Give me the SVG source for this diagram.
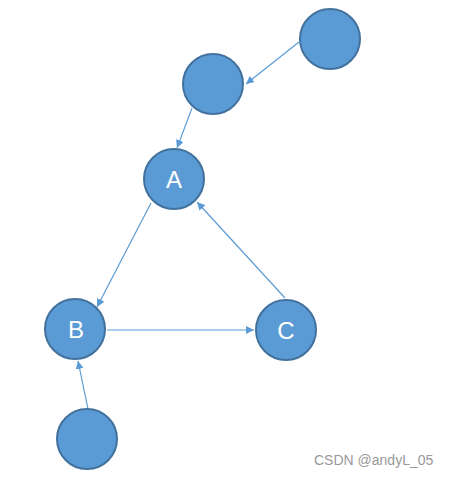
<svg xmlns="http://www.w3.org/2000/svg" width="449" height="477" viewBox="0 0 449 477">
<style>
.n{fill:#5B9BD5;stroke:#41719C;stroke-width:2}
.l{fill:#fff;font-family:"Liberation Sans",Arial,sans-serif;font-size:24px;text-anchor:middle}
.e{stroke:#5B9BD5;stroke-width:1.2;fill:none;marker-end:url(#ah)}
.w{fill:#999;font-family:"Liberation Sans",Arial,sans-serif;font-size:14px}
</style>
<defs>
<marker id="ah" viewBox="0 0 10 10" refX="10" refY="5" markerWidth="8" markerHeight="8" markerUnits="userSpaceOnUse" orient="auto">
<path d="M0,0 L10,5 L0,10 z" fill="#5B9BD5"/>
</marker>
</defs>
<rect width="449" height="477" fill="#fff"/>
<g id="edges">
<line class="e" x1="299" y1="42" x2="246" y2="84"/>
<line class="e" x1="192" y1="108" x2="177" y2="148"/>
<line class="e" x1="151" y1="203" x2="97" y2="307"/>
<line class="e" x1="285" y1="298" x2="197" y2="202"/>
<line class="e" x1="107" y1="330" x2="254" y2="330"/>
<line class="e" x1="88" y1="409" x2="78" y2="361"/>
</g>
<g id="n1"><circle class="n" cx="330" cy="39" r="30"/></g>
<g id="n2"><circle class="n" cx="213" cy="84" r="30"/></g>
<g id="A"><circle class="n" cx="174" cy="179" r="30"/><text class="l" x="174" y="188">A</text></g>
<g id="B"><circle class="n" cx="75" cy="329" r="30"/><text class="l" x="76" y="338">B</text></g>
<g id="C"><circle class="n" cx="286" cy="330" r="30"/><text class="l" x="286" y="339">C</text></g>
<g id="n3"><circle class="n" cx="87" cy="439" r="30"/></g>
<text class="w" x="314" y="465">CSDN @andyL_05</text>
</svg>
